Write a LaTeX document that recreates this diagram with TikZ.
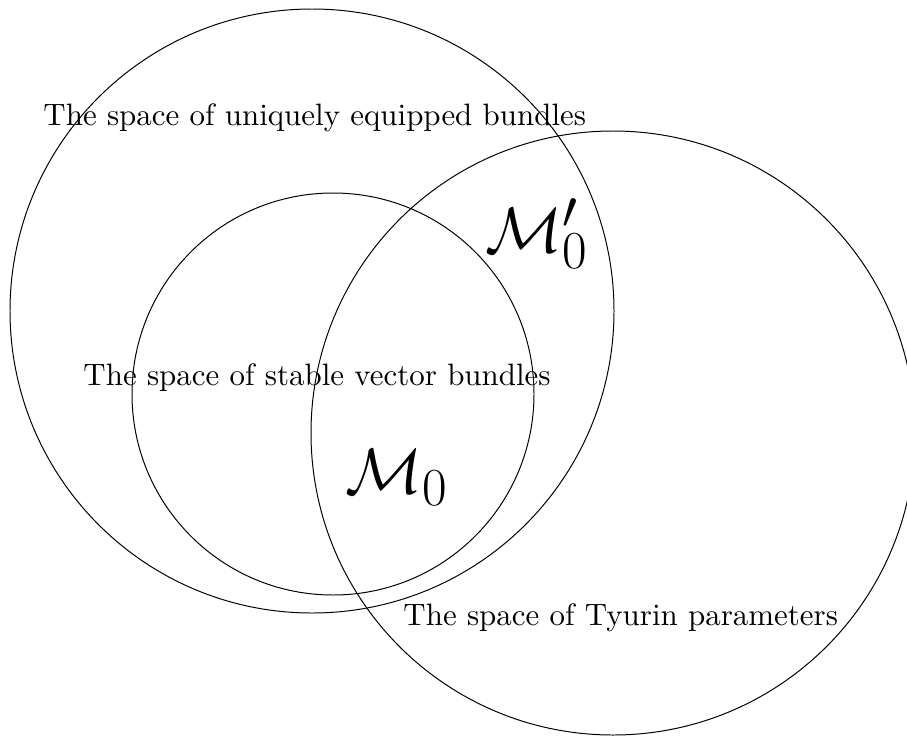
\documentclass[tikz,border=0pt]{standalone}
\begin{document}
\begin{tikzpicture}[x=0.3233pt, y=-0.3233pt, inner sep=0pt, line width=0.32pt,
    spacename/.style={anchor=base west},
    modspace/.style={anchor=base west, font=\fontsize{22.7}{27}\selectfont}]
        \useasboundingbox (0, 0) rectangle (907, 735);
        \clip (0, 0) rectangle (907, 735);

        % Circles
        \draw (312, 311) circle [radius=302];
        \draw (333, 394) circle [radius=201];
        \draw (613, 433) circle [radius=302];

        % Names of the spaces
        \node[spacename] (uniq) at (43, 125) {The space of uniquely equipped bundles};
        \node[spacename] (stab) at (83, 385) {The space of stable vector bundles};
        \node[spacename] (tyur) at (403, 625) {The space of Tyurin parameters};

        \node[modspace] (mprime) at (485, 252) {$\mathcal{M}'_0$};
        \node[modspace] (mzero) at (345, 493) {$\mathcal{M}_0$};
    \end{tikzpicture}
\end{document}
